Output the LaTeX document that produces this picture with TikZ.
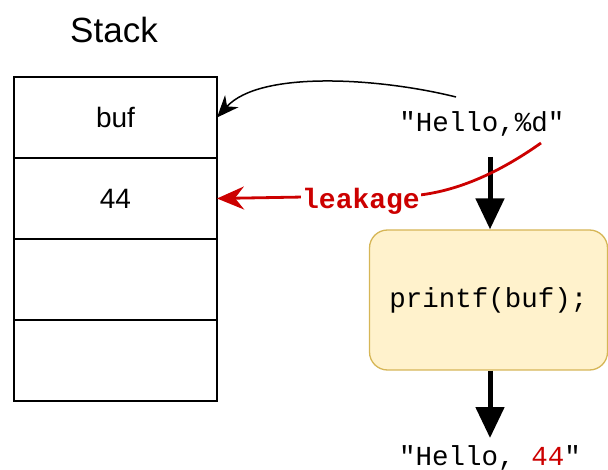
\documentclass[tikz,border=0pt]{standalone}
\usepackage{fontspec}
\setmainfont{Liberation Sans}
\setmonofont{Liberation Mono}
\usetikzlibrary{arrows.meta}
\definecolor{leak}{HTML}{CC0000}
\definecolor{notefill}{HTML}{FFF2CC}
\definecolor{notedraw}{HTML}{D6B656}
\tikzset{
  cell/.style={draw=black, line width=1.2pt, minimum width=203pt, minimum height=81pt, inner sep=0pt, outer sep=0pt, font=\fontsize{28}{32}\selectfont},
  codebox/.style={draw=notedraw, fill=notefill, line width=1.3pt, rounded corners=18pt, minimum width=238pt, minimum height=140pt, font=\ttfamily\fontsize{27.5}{31}\selectfont},
  codetext/.style={inner sep=0pt, font=\ttfamily\fontsize{27.5}{31}\selectfont},
  flow/.style={line width=5pt, -{Triangle[length=31pt, width=28pt]}},
}
\begin{document}
\begin{tikzpicture}[x=1pt, y=-1pt]
  \useasboundingbox (0,0) rectangle (608,470);
  % stack frame
  \node[font=\fontsize{35}{40}\selectfont, inner sep=0pt] (title) at (114,30) {Stack};
  \node[cell] (s1) at (115.5,117.5) {buf};
  \node[cell, anchor=north] (s2) at (s1.south) {44};
  \node[cell, anchor=north] (s3) at (s2.south) {};
  \node[cell, anchor=north] (s4) at (s3.south) {};
  % format string and call
  \node[codetext] (fmt) at (482,124) {"Hello,\%d"};
  \node[codebox] (call) at (488.5,300) {printf(buf);};
  \node[codetext] (out) at (490,458) {"Hello, \textcolor{leak}{44}"};
  \coordinate (fmtbot) at (490,157);
  \coordinate (outtop) at (490,438);
  \draw[flow] (fmtbot) -- (fmtbot |- call.north);
  \draw[flow] (call.south -| outtop) -- (outtop);
  % pointer from buf to the format string
  \coordinate (ptr) at (456,97);
  \draw[line width=1.5pt, -{Stealth[length=22pt, width=18pt, inset=7pt]}]
    (ptr) .. controls (380,78) and (260,70) .. (s1.east);
  % leaked value
  \coordinate (leakstart) at (541,143);
  \coordinate (leakmid) at (420,195);
  \draw[leak, line width=2.8pt, -{Stealth[length=27pt, width=23pt, inset=9pt]}]
    (leakstart) .. controls (500,172) and (460,190) .. (leakmid) -- (s2.east);
  \node[fill=white, inner sep=1pt, text=leak, font=\ttfamily\bfseries\fontsize{28}{32}\selectfont] (leaklabel) at (361,201) {leakage};
\end{tikzpicture}
\end{document}
